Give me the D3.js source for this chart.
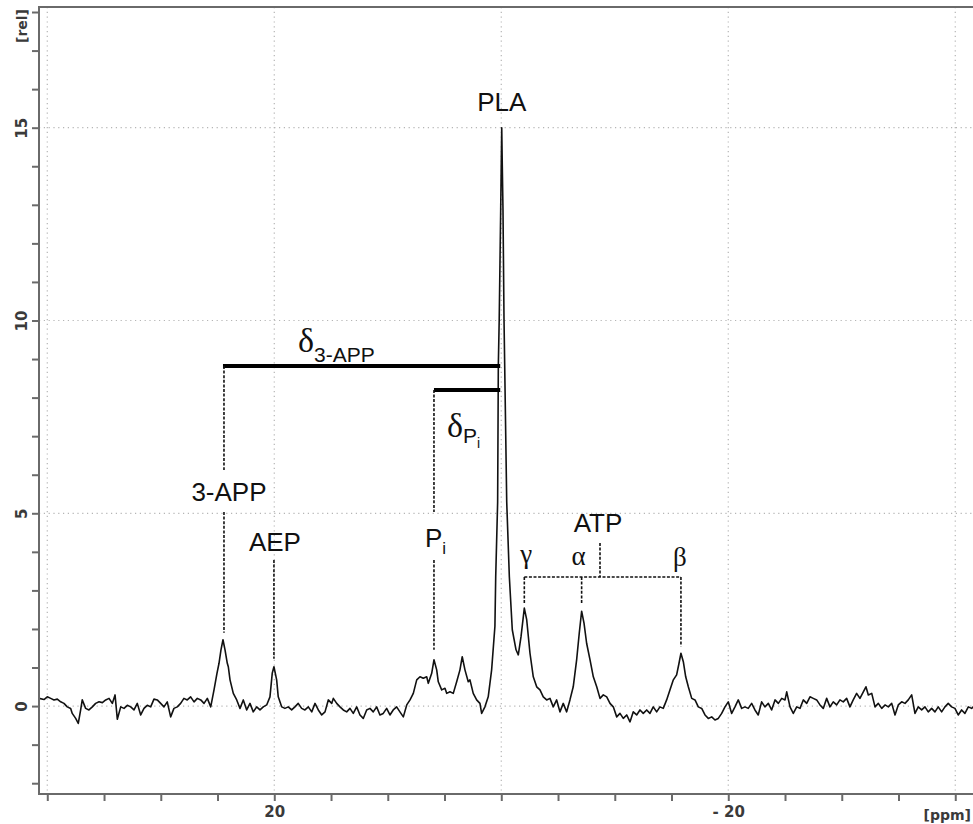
<!DOCTYPE html>
<html>
<head>
<meta charset="utf-8">
<script src="https://cdn.jsdelivr.net/npm/d3@7"></script>
<style>
  html, body { margin: 0; padding: 0; background: #fff; overflow: hidden; }
  svg { display: block; }
</style>
</head>
<body>
<svg id="chart" width="973" height="824"></svg>
<script>
// 31P spectrum: [chemical shift (ppm), relative intensity]
const spectrum = [
  [40.95,0.18],[40.73,0.20],[40.29,0.17],[40.00,0.24],[39.70,0.20],[39.41,0.16],[39.12,0.18],[38.82,0.11],[38.53,0.07],[38.24,-0.02],
  [37.94,-0.06],[37.80,-0.19],[37.50,-0.32],[37.27,-0.45],[37.06,-0.10],[36.92,0.16],[36.62,-0.06],[36.33,-0.10],[36.03,-0.02],[35.74,0.07],
  [35.44,0.11],[35.15,0.09],[34.85,0.16],[34.56,0.20],[34.27,0.07],[34.03,0.29],[33.83,-0.34],[33.53,-0.02],[33.24,-0.06],[32.95,0.02],
  [32.65,-0.02],[32.36,-0.10],[32.07,0.07],[31.77,-0.23],[31.48,-0.06],[31.19,0.02],[30.89,-0.02],[30.60,0.18],[30.31,0.16],[30.01,0.07],
  [29.72,-0.02],[29.43,0.11],[29.13,-0.28],[28.84,-0.06],[28.55,-0.02],[28.25,0.07],[27.96,0.20],[27.67,0.16],[27.37,0.24],[27.07,0.11],
  [26.78,0.20],[26.48,0.16],[26.19,0.07],[25.90,0.20],[25.60,-0.02],[25.31,0.42],[25.05,0.85],[24.87,1.11],[24.70,1.45],[24.52,1.72],
  [24.34,1.46],[24.14,1.11],[24.05,1.02],[23.90,0.68],[23.61,0.33],[23.31,0.16],[23.02,-0.06],[22.73,0.16],[22.43,-0.10],[22.14,0.07],
  [21.85,-0.15],[21.55,-0.02],[21.26,-0.10],[20.97,-0.02],[20.67,0.03],[20.38,0.24],[20.18,0.85],[20.03,1.02],[19.79,0.68],[19.65,0.24],
  [19.35,-0.02],[19.06,-0.06],[18.77,-0.02],[18.47,-0.10],[18.18,-0.02],[17.89,0.07],[17.59,-0.06],[17.30,-0.10],[17.00,-0.02],[16.70,-0.15],
  [16.41,0.07],[16.12,-0.10],[15.82,-0.23],[15.53,-0.15],[15.24,0.16],[14.94,0.07],[14.80,0.20],[14.50,0.07],[14.21,-0.02],[13.92,-0.10],
  [13.62,-0.15],[13.33,-0.06],[13.04,-0.19],[12.74,-0.02],[12.45,-0.23],[12.16,-0.32],[11.86,-0.10],[11.57,-0.06],[11.28,-0.15],[10.98,-0.02],
  [10.69,-0.23],[10.40,-0.19],[10.10,-0.06],[9.81,-0.23],[9.52,-0.10],[9.22,-0.02],[8.93,-0.15],[8.63,-0.28],[8.33,0.03],[8.04,0.16],
  [7.75,0.33],[7.45,0.68],[7.16,0.76],[6.87,0.72],[6.57,0.76],[6.43,0.59],[6.13,0.85],[5.93,1.20],[5.69,0.94],[5.55,0.63],
  [5.25,0.42],[4.96,0.46],[4.81,0.33],[4.52,0.37],[4.23,0.33],[3.93,0.63],[3.64,0.94],[3.44,1.28],[3.20,0.94],[2.91,0.63],
  [2.76,0.68],[2.47,0.33],[2.17,0.16],[1.88,0.07],[1.73,-0.19],[1.44,-0.02],[1.15,0.24],[0.85,0.94],[0.56,2.07],[0.49,3.36],
  [0.32,5.29],[0.26,8.83],[0.18,10.05],[0.05,12.90],[-0.04,15.00],[-0.09,14.00],[-0.15,12.90],[-0.24,10.05],[-0.48,5.29],[-0.71,3.36],
  [-0.97,1.98],[-1.30,1.46],[-1.50,1.33],[-1.74,1.80],[-2.03,2.54],[-2.24,2.24],[-2.53,1.37],[-2.82,0.76],[-3.12,0.50],[-3.41,0.42],
  [-3.70,0.24],[-4.00,0.16],[-4.29,0.20],[-4.58,-0.02],[-4.88,0.16],[-5.17,-0.15],[-5.46,0.07],[-5.76,-0.15],[-6.05,0.16],[-6.34,0.50],
  [-6.64,1.20],[-6.87,1.89],[-7.08,2.46],[-7.29,2.15],[-7.52,1.63],[-7.82,1.20],[-8.11,0.76],[-8.41,0.50],[-8.70,0.20],[-8.99,0.29],
  [-9.29,0.24],[-9.58,0.07],[-9.87,-0.02],[-10.17,-0.28],[-10.46,-0.19],[-10.75,-0.32],[-11.05,-0.23],[-11.34,-0.41],[-11.63,-0.15],[-11.93,-0.23],
  [-12.22,-0.10],[-12.51,-0.19],[-12.81,-0.10],[-13.10,-0.19],[-13.39,-0.02],[-13.69,-0.15],[-13.98,-0.02],[-14.27,-0.06],[-14.57,0.16],[-14.86,0.42],
  [-15.16,0.68],[-15.45,0.81],[-15.66,1.11],[-15.83,1.37],[-16.04,1.15],[-16.25,0.76],[-16.48,0.50],[-16.78,0.20],[-17.07,0.16],[-17.36,-0.02],
  [-17.66,-0.06],[-17.95,-0.23],[-18.24,-0.32],[-18.54,-0.28],[-18.83,-0.36],[-19.12,-0.32],[-19.42,-0.19],[-19.71,-0.02],[-20.00,0.11],[-20.30,-0.19],
  [-20.59,-0.02],[-20.88,0.16],[-21.18,-0.06],[-21.47,-0.02],[-21.76,-0.06],[-22.06,0.07],[-22.35,-0.10],[-22.64,-0.23],[-22.94,0.11],[-23.23,-0.02],
  [-23.53,0.07],[-23.82,-0.10],[-24.12,0.16],[-24.41,0.07],[-24.71,0.20],[-25.00,0.16],[-25.15,0.37],[-25.44,-0.02],[-25.73,-0.19],[-26.03,-0.02],
  [-26.32,-0.06],[-26.61,0.16],[-26.91,0.07],[-27.20,0.24],[-27.49,0.20],[-27.79,0.16],[-28.08,0.03],[-28.37,-0.06],[-28.67,0.20],[-28.96,-0.02],
  [-29.25,0.11],[-29.55,0.03],[-29.84,0.16],[-30.13,0.11],[-30.43,0.20],[-30.72,-0.02],[-31.01,0.16],[-31.31,0.33],[-31.60,0.20],[-31.90,0.37],
  [-32.13,0.50],[-32.34,0.29],[-32.64,0.33],[-32.93,-0.02],[-33.22,0.07],[-33.52,-0.06],[-33.81,0.03],[-34.10,-0.02],[-34.40,0.07],[-34.69,-0.23],
  [-34.98,0.03],[-35.28,0.11],[-35.57,0.07],[-35.86,0.16],[-36.16,0.29],[-36.45,-0.19],[-36.74,-0.02],[-37.04,-0.10],[-37.33,-0.02],[-37.62,-0.15],
  [-37.92,-0.06],[-38.21,-0.15],[-38.50,-0.02],[-38.80,-0.15],[-39.09,-0.02],[-39.38,0.07],[-39.68,-0.02],[-39.97,-0.06],[-40.26,-0.23],[-40.56,-0.10],
  [-40.85,-0.19],[-41.15,-0.02],[-41.44,-0.06],[-41.73,0.02],[-42.00,-0.04]
];

// Assigned resonances
const peakNames   = ["3-APP", "AEP", "Pi", "PLA", "γ", "α", "β"];
const peakShifts  = [24.52, 20.03, 5.93, -0.04, -2.03, -7.08, -15.83];
const peakHeights = [1.72, 1.02, 1.20, 15.0, 2.54, 2.46, 1.37];

// Chemical-shift difference bars (level in rel units)
const deltaNames  = ["3-APP", "Pi"];
const deltaLevels = [8.82, 8.20];

// Axis ticks
const xMajorTicks  = [40, 35, 30, 25, 20, 15, 10, 5, 0, -5, -10, -15, -20, -25, -30, -35, -40];
const xLabelTicks  = [20, -20];
const xGridTicks   = [40, 20, 0, -20, -40];
const yMajorTicks  = d3.range(-2, 19, 1);
const yLabelTicks  = [0, 5, 10, 15];

const svg = d3.select("#chart");
const plot = { left: 39, right: 985, top: 7, bottom: 794 };

const x = d3.scaleLinear().domain([40.73, -42.62]).range([plot.left, plot.right]);
const y = d3.scaleLinear().domain([-2.28, 18.13]).range([plot.bottom, plot.top]);

svg.append("defs").append("clipPath").attr("id", "plotClip")
  .append("rect")
  .attr("x", plot.left).attr("y", plot.top)
  .attr("width", plot.right - plot.left).attr("height", plot.bottom - plot.top);

// Dotted grid
const grid = svg.append("g").attr("stroke", "#b5b5b5").attr("stroke-width", 1.2)
  .attr("stroke-dasharray", "1.2,3.6");
grid.selectAll("line.v").data(xGridTicks).join("line")
  .attr("x1", d => x(d)).attr("x2", d => x(d))
  .attr("y1", plot.top).attr("y2", plot.bottom);
grid.selectAll("line.h").data(yLabelTicks).join("line")
  .attr("x1", plot.left).attr("x2", plot.right)
  .attr("y1", d => y(d)).attr("y2", d => y(d));

// Spectrum trace
const line = d3.line().x(d => x(d[0])).y(d => y(d[1]));
svg.append("path")
  .datum(spectrum)
  .attr("clip-path", "url(#plotClip)")
  .attr("fill", "none")
  .attr("stroke", "#111")
  .attr("stroke-width", 1.6)
  .attr("stroke-linejoin", "round")
  .attr("d", line);

// Frame and axes
const axisColor = "#6a6a6a";
svg.append("rect")
  .attr("x", plot.left).attr("y", plot.top)
  .attr("width", plot.right - plot.left).attr("height", plot.bottom - plot.top)
  .attr("fill", "none").attr("stroke", axisColor).attr("stroke-width", 2);

const xAxis = d3.axisBottom(x).tickValues(xMajorTicks).tickSize(7).tickSizeOuter(0)
  .tickFormat(d => xLabelTicks.includes(d) ? (d < 0 ? "- " + Math.abs(d) : String(d)) : "");
const gx = svg.append("g").attr("transform", `translate(0,${plot.bottom})`).call(xAxis);
gx.select(".domain").remove();
gx.selectAll(".tick line").attr("stroke", axisColor).attr("stroke-width", 2);
gx.selectAll(".tick text")
  .attr("y", 12)
  .attr("fill", "#3a3a3a")
  .style("font-family", "'DejaVu Sans', sans-serif")
  .style("font-size", "15px")
  .style("font-weight", "bold");

const yAxis = d3.axisLeft(y).tickValues(yMajorTicks).tickSize(7).tickSizeOuter(0)
  .tickFormat(d => yLabelTicks.includes(d) ? String(d) : "");
const gy = svg.append("g").attr("transform", `translate(${plot.left},0)`).call(yAxis);
gy.select(".domain").remove();
gy.selectAll(".tick line").attr("stroke", axisColor).attr("stroke-width", 2);
gy.selectAll(".tick text")
  .attr("x", 0).attr("y", 0).attr("dy", 0)
  .attr("transform", "translate(-17,0) rotate(-90)")
  .attr("text-anchor", "middle")
  .attr("dominant-baseline", "central")
  .attr("fill", "#3a3a3a")
  .style("font-family", "'DejaVu Sans', sans-serif")
  .style("font-size", "15px")
  .style("font-weight", "bold");

// Unit labels
svg.append("text")
  .attr("transform", `translate(${plot.left - 17},26) rotate(-90)`)
  .attr("text-anchor", "middle").attr("dominant-baseline", "central")
  .attr("fill", "#3a3a3a")
  .style("font-family", "'DejaVu Sans', sans-serif").style("font-size", "14px").style("font-weight", "bold")
  .text("[rel]");
svg.append("text")
  .attr("x", 971).attr("y", plot.bottom + 26)
  .attr("text-anchor", "end")
  .attr("fill", "#3a3a3a")
  .style("font-family", "'DejaVu Sans', sans-serif").style("font-size", "14px").style("font-weight", "bold")
  .text("[ppm]");

// Annotations
const ann = svg.append("g");
const labelFont = "'Liberation Sans', Arial, sans-serif";
const greekFont = "'Liberation Serif', 'DejaVu Serif', serif";
const px = name => x(peakShifts[peakNames.indexOf(name)]);
const py = name => y(peakHeights[peakNames.indexOf(name)]);
const dashed = (x1, y1, x2, y2) => ann.append("line")
  .attr("x1", x1).attr("y1", y1).attr("x2", x2).attr("y2", y2)
  .attr("stroke", "#111").attr("stroke-width", 1.6).attr("stroke-dasharray", "3,1.6");
const thick = (x1, x2, yy) => ann.append("line")
  .attr("x1", x1).attr("x2", x2).attr("y1", yy).attr("y2", yy)
  .attr("stroke", "#000").attr("stroke-width", 4);
const label = (tx, ty, str, size, font) => ann.append("text")
  .attr("x", tx).attr("y", ty).attr("text-anchor", "middle")
  .attr("fill", "#111").style("font-family", font || labelFont).style("font-size", size + "px")
  .text(str);

const plaX = px("PLA");
const d1 = y(deltaLevels[0]), d2 = y(deltaLevels[1]);

// δ 3-APP bar
thick(px("3-APP"), plaX - 1.5, d1);
dashed(px("3-APP") + 1, d1, px("3-APP") + 1, 470);
dashed(px("3-APP") + 1, 512, px("3-APP") + 1, py("3-APP") - 7);
// δ Pi bar
thick(px("Pi"), plaX - 1.5, d2);
dashed(px("Pi"), d2, px("Pi"), 512);
dashed(px("Pi"), 560, px("Pi"), py("Pi") - 10);
// AEP
dashed(px("AEP"), 560, px("AEP"), py("AEP") - 8);

// ATP bracket
const bracketY = 577;
const atpX = 600;
dashed(atpX, 543, atpX, bracketY);
dashed(px("γ"), bracketY, px("β"), bracketY);
dashed(px("γ"), bracketY, px("γ"), 603);
dashed(px("α"), bracketY, px("α"), 603);
dashed(px("β"), bracketY, px("β"), py("β") - 7);

// Labels
label(plaX, py("PLA") - 17, "PLA", 26);
label(px("3-APP") + 6, 501, "3-APP", 26);
label(px("AEP") + 1, 551, "AEP", 26);
label(atpX - 2, 532, "ATP", 26);
label(px("γ") + 2, 563, "γ", 27, greekFont);
label(px("α") - 3, 565, "α", 27, greekFont);
label(px("β") - 1, 566, "β", 27, greekFont);

const piLabel = ann.append("text").attr("x", px("Pi") - 9).attr("y", 547)
  .attr("fill", "#111").style("font-family", labelFont).style("font-size", "26px");
piLabel.append("tspan").text("P");
piLabel.append("tspan").attr("dy", 7).style("font-size", "17px").text("i");

const dApp = ann.append("text").attr("x", 298).attr("y", d1 - 14)
  .attr("fill", "#111").style("font-family", labelFont).style("font-size", "31px");
dApp.append("tspan").style("font-family", greekFont).style("font-size", "34px").text("δ");
dApp.append("tspan").attr("dy", 10).style("font-size", "21px").text("3-APP");

const dPi = ann.append("text").attr("x", 447).attr("y", d2 + 47)
  .attr("fill", "#111").style("font-family", labelFont).style("font-size", "31px");
dPi.append("tspan").style("font-family", greekFont).style("font-size", "34px").text("δ");
dPi.append("tspan").attr("dy", 6).style("font-size", "21px").text("P");
dPi.append("tspan").attr("dy", 5).style("font-size", "14px").text("i");
</script>
</body>
</html>
